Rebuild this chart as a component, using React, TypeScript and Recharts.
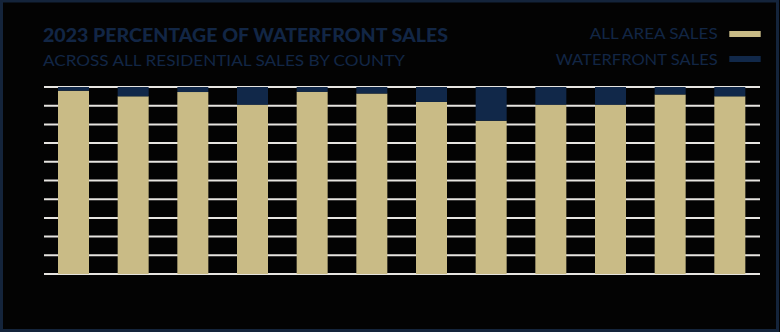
import React from "react";
import { BarChart, Bar, XAxis, YAxis, CartesianGrid } from "recharts";

const counties = ["C1", "C2", "C3", "C4", "C5", "C6", "C7", "C8", "C9", "C10", "C11", "C12"];
const waterfrontPct = [2, 5, 2.7, 9.5, 2.6, 3.5, 8, 18, 9.5, 9.5, 4, 5];
const allAreaPct = waterfrontPct.map((w) => 100 - w);
const yTicks = [0, 10, 20, 30, 40, 50, 60, 70, 80, 90, 100];

const data = counties.map((c, i) => ({ county: c, allArea: allAreaPct[i], waterfront: waterfrontPct[i] }));

const NAVY = "#122645";
const TAN = "#c9bb86";
const BAR_NAVY = "#112849";

export default function App() {
  return (
    <div style={{ position: "absolute", left: 0, top: 0, width: 780, height: 332, background: "#030303", overflow: "hidden" }}>
      <BarChart width={780} height={332} data={data} margin={{ top: 87, right: 20, left: 44, bottom: 58 }} barSize={31}>
        <CartesianGrid horizontal vertical={false} stroke="#e6e4e0" strokeWidth={2} />
        <XAxis dataKey="county" hide />
        <YAxis hide domain={[0, 100]} ticks={yTicks} tickCount={11} interval={0} />
        <Bar dataKey="allArea" stackId="a" fill={TAN} isAnimationActive={false} />
        <Bar dataKey="waterfront" stackId="a" fill={BAR_NAVY} isAnimationActive={false} />
      </BarChart>
      <svg width={780} height={332} style={{ position: "absolute", left: 0, top: 0, pointerEvents: "none" }}>
        <rect x={1.5} y={1} width={776} height={329.5} fill="none" stroke="#14243b" strokeWidth={3} />
        <text x={43} y={41.5} fill={NAVY} fontFamily="Lato, 'DejaVu Sans', sans-serif" fontWeight={900} fontSize={19.5} textLength={405} lengthAdjust="spacingAndGlyphs">
          2023 PERCENTAGE OF WATERFRONT SALES
        </text>
        <text x={43} y={66} fill={NAVY} fontFamily="Lato, 'DejaVu Sans', sans-serif" fontWeight={400} fontSize={14.5} textLength={362} lengthAdjust="spacingAndGlyphs">
          ACROSS ALL RESIDENTIAL SALES BY COUNTY
        </text>
        <text x={717.7} y={38.7} fill={NAVY} textAnchor="end" fontFamily="Lato, 'DejaVu Sans', sans-serif" fontSize={14.5} textLength={128} lengthAdjust="spacingAndGlyphs">
          ALL AREA SALES
        </text>
        <rect x={729.3} y={31} width={31.4} height={6} fill={TAN} />
        <text x={717.7} y={64.7} fill={NAVY} textAnchor="end" fontFamily="Lato, 'DejaVu Sans', sans-serif" fontSize={14.5} textLength={162} lengthAdjust="spacingAndGlyphs">
          WATERFRONT SALES
        </text>
        <rect x={729.3} y={56} width={31.4} height={6} fill={BAR_NAVY} />
      </svg>
    </div>
  );
}
